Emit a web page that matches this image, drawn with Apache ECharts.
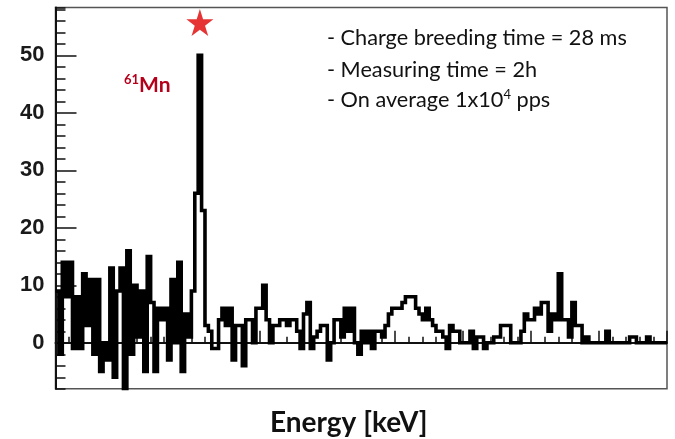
<!DOCTYPE html>
<html><head><meta charset="utf-8">
<script src="https://cdn.jsdelivr.net/npm/echarts@6/dist/echarts.min.js"></script>
<style>html,body{margin:0;padding:0;background:#fff}#c{width:675px;height:439px}</style>
</head><body><div id="c"></div>
<script>
// ---- data ----
const binCounts = [
  9, -2, 14, 8, 14, -1, 8, -1, 12, 3,
  11, -2, 11, -5, 0, -3, 13, -6, 9, 13,
  -8, 16, -2, 10, 1, 9, -5, 15, 7, -5,
  6, 4, 6, -3, 11, 0, 14, -5, 5, 1,
  9, 26, 50, 23, 3, 2, -1, -1, 4, 6,
  3, 6, -3, 3, 3, -4, 4, 4, 0, 6,
  6, 10, 4, 0, 3, 3, 4, 4, 3, 4,
  4, 2, -1, 5, 7, -1, 1, 2, 3, 3,
  -3, 0, 4, 4, 1, 6, 2, 6, 0, -2,
  2, 0, 2, -1, 2, 2, 1, 3, 5, 6,
  6, 6, 7, 8, 8, 8, 6, 5, 4, 6,
  4, 3, 2, 2, 1, -1, 3, 2, 2, 0,
  0, 0, 2, -1, 1, 1, -1, 0, 0, 1,
  1, 3, 3, 3, 0, 0, 0, 2, 5, 4,
  4, 6, 5, 7, 7, 2, 5, 4, 12, 4,
  4, 1, 7, 3, 3, 0, 1, 0, 0, 0,
  0, 0, 2, 0, 0, 0, 0, 0, 0, 1,
  1, 0, 0, 0, 1, 0, 0, 0, 0, 0
];
const yTickLabels = [0, 10, 20, 30, 40, 50];
const starPeak = [42.5, 55.7];
const xTitle = 'Energy [keV]';
const isotopeMass = '61';
const isotopeName = 'Mn';
const noteLines = ['- Charge breeding time = 28 ms', '- Measuring time = 2h'];
const noteLine3 = ['- On average 1x10', '4', ' pps'];

// ---- layout ----
const W = 675, Hc = 439;
const Y_MIN = -8, Y_MAX = 58.3, X_MIN = 0, X_MAX = 180;
const G = {left: 55.5, right: 8, top: 7.6, bottom: 50.2};
const plotH = Hc - G.top - G.bottom;
const ppu = plotH / (Y_MAX - Y_MIN);
const MAJ_MIN = 0, MAJ_MAX = 50;
const G2 = {left: G.left, right: G.right,
  top: G.top + (Y_MAX - MAJ_MAX) * ppu,
  bottom: G.bottom + (MAJ_MIN - Y_MIN) * ppu};

const stepData = binCounts.map((v, i) => [i, v]);
stepData.push([binCounts.length, binCounts[binCounts.length - 1]]);

const ink = '#111';
const red = '#b5001c';
const chart = echarts.init(document.getElementById('c'), null, {renderer: 'canvas'});
chart.setOption({
  animation: false,
  backgroundColor: '#fff',
  grid: [
    Object.assign({show: true, borderColor: '#555', borderWidth: 1.5, backgroundColor: 'transparent'}, G),
    Object.assign({show: false}, G2)
  ],
  xAxis: [
    {gridIndex: 0, type: 'value', min: X_MIN, max: X_MAX, interval: 20,
     axisLine: {show: true, lineStyle: {color: ink, width: 2}},
     axisTick: {show: true, inside: true, length: 12, lineStyle: {color: ink, width: 1.5}},
     minorTick: {show: true, splitNumber: 5, length: 6, lineStyle: {color: ink, width: 1.5}},
     axisLabel: {show: false}, splitLine: {show: false}},
    {gridIndex: 1, type: 'value', min: X_MIN, max: X_MAX, show: false}
  ],
  yAxis: [
    {gridIndex: 0, type: 'value', min: Y_MIN, max: Y_MAX, interval: 2,
     axisLine: {show: true, lineStyle: {color: ink, width: 2}},
     axisTick: {show: true, inside: true, length: 10, lineStyle: {color: ink, width: 1.5}},
     axisLabel: {show: true, margin: 11, color: '#1a1a1a', fontSize: 22, fontWeight: 'bold',
       fontFamily: '"Liberation Sans", Arial, sans-serif',
       formatter: v => (yTickLabels.indexOf(Math.round(v)) >= 0 && Math.abs(v - Math.round(v)) < 1e-6) ? String(Math.round(v)) : ''},
     splitLine: {show: false}},
    {gridIndex: 1, type: 'value', min: MAJ_MIN, max: MAJ_MAX, interval: 10,
     axisLine: {show: false},
     axisTick: {show: true, inside: true, length: 21, lineStyle: {color: ink, width: 1.5}},
     axisLabel: {show: false}, splitLine: {show: false}}
  ],
  series: [
    {type: 'line', xAxisIndex: 0, yAxisIndex: 0, data: stepData, step: 'end',
     symbol: 'none', lineStyle: {color: '#000', width: 3.6, join: 'miter'}, clip: true, z: 3},
    {type: 'scatter', xAxisIndex: 0, yAxisIndex: 0, data: [starPeak],
     symbol: 'path://M50,0 L61.8,36.2 L100,36.2 L69.1,58.6 L80.9,95.1 L50,72.6 L19.1,95.1 L30.9,58.6 L0,36.2 L38.2,36.2 Z',
     symbolSize: 27, itemStyle: {color: '#e00000'}, clip: false, z: 5}
  ],
  graphic: [
    {type: 'text', left: 327, top: 27, style: {text: noteLines[0], font: '21.7px Lato', fill: '#111'}},
    {type: 'text', left: 327, top: 59, style: {text: noteLines[1], font: '21.7px Lato', fill: '#111'}},
    {type: 'text', left: 327, top: 88, style: {
      text: '{a|' + noteLine3[0] + '}{s|' + noteLine3[1] + '}{a|' + noteLine3[2] + '}',
      rich: {a: {fontSize: 21.7, fontFamily: 'Lato', fill: '#111', lineHeight: 25},
             s: {fontSize: 13, fontFamily: 'Lato', fill: '#111', verticalAlign: 'top', lineHeight: 25}}}},
    {type: 'text', left: 124, top: 73, style: {
      text: '{s|' + isotopeMass + '}{m|' + isotopeName + '}',
      rich: {m: {fontSize: 21, fontFamily: 'Lato', fontWeight: 'bold', fill: red, lineHeight: 24},
             s: {fontSize: 13, fontFamily: 'Lato', fontWeight: 'bold', fill: red, verticalAlign: 'top', lineHeight: 24}}}},
    {type: 'text', left: 270, top: 409, style: {text: xTitle, font: 'bold 28px Lato', fill: '#111'}}
  ]
});
</script></body></html>
